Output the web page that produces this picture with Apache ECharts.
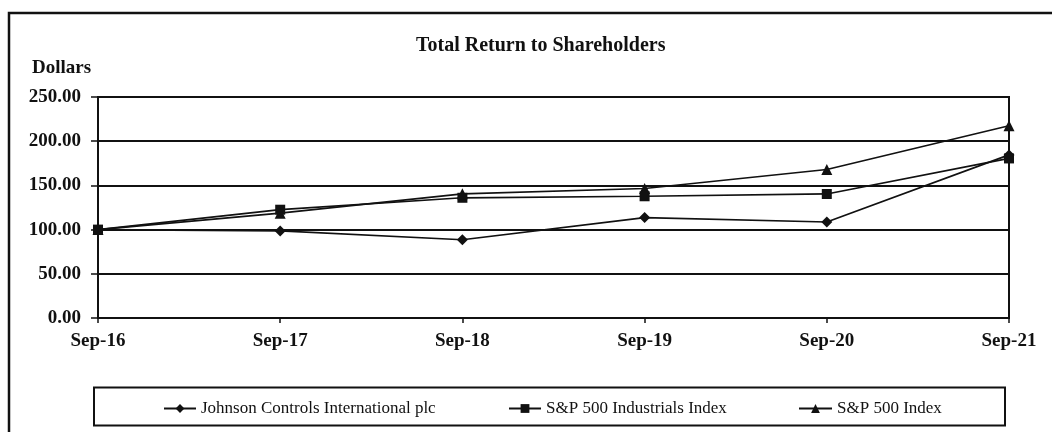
<!DOCTYPE html>
<html>
<head>
<meta charset="utf-8">
<script src="https://cdn.jsdelivr.net/npm/echarts@6/dist/echarts.min.js"></script>
<style>
  html, body { margin: 0; padding: 0; background: #fff; }
  #chart { width: 1052px; height: 432px; }
</style>
</head>
<body>
<div id="chart"></div>
<script>
// x axis: fiscal year ends
const years = ["Sep-16", "Sep-17", "Sep-18", "Sep-19", "Sep-20", "Sep-21"];
const jci = [100, 98.5, 88.5, 113.6, 108.6, 184.5];
const industrials = [100, 122.5, 136, 137.7, 140.3, 180.5];
const sp500 = [100, 118.6, 140.5, 146.5, 168, 217.5];
const seriesNames = [
  "Johnson Controls International plc",
  "S&P 500 Industrials Index",
  "S&P 500 Index",
];

const serif = "'Liberation Serif', 'Times New Roman', serif";
const ink = "#111";

const myChart = echarts.init(document.getElementById("chart"));

function lineSeries(name, data, symbol, size) {
  return {
    type: "line",
    name: name,
    data: data,
    symbol: symbol,
    symbolSize: size,
    lineStyle: { color: ink, width: 1.7 },
    itemStyle: { color: ink },
    emphasis: { disabled: true },
  };
}

// one legend per item, the gaps in the original are uneven
function legendAt(left, name, width) {
  return {
    left: left,
    top: 400,
    padding: 0,
    data: [name],
    itemWidth: width,
    itemHeight: 11,
    textStyle: { fontFamily: serif, fontSize: 17, color: ink },
  };
}

const option = {
  animation: false,
  title: {
    text: "Total Return to Shareholders",
    left: 411,
    top: 31,
    textStyle: { fontFamily: serif, fontSize: 20, fontWeight: "bold", color: ink },
  },
  legend: [
    legendAt(163, seriesNames[0], 32),
    legendAt(508, seriesNames[1], 32),
    legendAt(798, seriesNames[2], 33),
  ],
  grid: {
    left: 98,
    right: 43,
    top: 97,
    bottom: 114,
    show: true,
    borderColor: ink,
    borderWidth: 2,
  },
  xAxis: {
    type: "category",
    data: years,
    boundaryGap: false,
    axisLine: { lineStyle: { color: ink, width: 2 } },
    axisTick: { show: true, length: 5, lineStyle: { color: ink, width: 1.5 } },
    axisLabel: {
      margin: 14,
      fontFamily: serif,
      fontSize: 19,
      fontWeight: "bold",
      color: ink,
    },
  },
  yAxis: {
    type: "value",
    min: 0,
    max: 250,
    interval: 50,
    axisLine: { show: true, lineStyle: { color: ink, width: 2 } },
    axisTick: { show: true, length: 7, lineStyle: { color: ink, width: 1.5 } },
    splitLine: { lineStyle: { color: ink, width: 2 } },
    axisLabel: {
      margin: 17,
      fontFamily: serif,
      fontSize: 19,
      fontWeight: "bold",
      color: ink,
      formatter: (v) => v.toFixed(2),
    },
  },
  graphic: [
    {
      type: "rect",
      shape: { x: 9, y: 13, width: 1200, height: 600 },
      style: { fill: "none", stroke: ink, lineWidth: 2.5 },
      silent: true,
    },
    {
      type: "rect",
      shape: { x: 94, y: 387.5, width: 911, height: 38 },
      style: { fill: "none", stroke: ink, lineWidth: 2 },
      silent: true,
    },
    {
      type: "text",
      left: 32,
      top: 59,
      style: {
        text: "Dollars",
        font: "bold 19px " + serif,
        fill: ink,
      },
    },
  ],
  series: [
    lineSeries(seriesNames[0], jci, "diamond", 11),
    lineSeries(seriesNames[1], industrials, "rect", 10),
    lineSeries(seriesNames[2], sp500, "triangle", 11),
  ],
};

myChart.setOption(option);
</script>
</body>
</html>
